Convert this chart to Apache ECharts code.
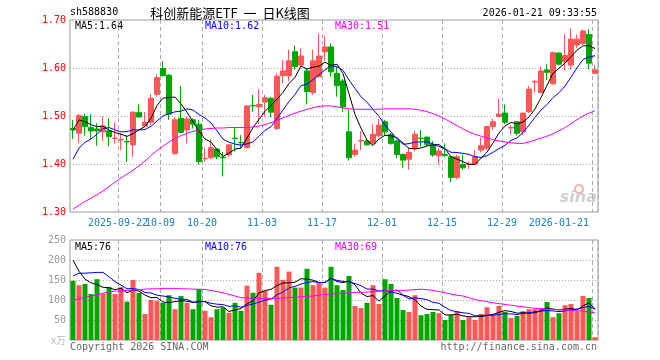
<!DOCTYPE html>
<html><head><meta charset="utf-8">
<script src="https://cdn.jsdelivr.net/npm/echarts@6/dist/echarts.min.js"></script>
<style>html,body{margin:0;padding:0;background:#fff}#c{width:660px;height:360px}</style>
</head><body><div id="c"></div>
<script>
const dates = ['2025-09-10','2025-09-11','2025-09-12','2025-09-15','2025-09-16','2025-09-17','2025-09-18','2025-09-19',
'2025-09-22','2025-09-23','2025-09-24','2025-09-25','2025-09-26','2025-09-29','2025-09-30',
'2025-10-09','2025-10-10','2025-10-13','2025-10-14','2025-10-15','2025-10-16','2025-10-17',
'2025-10-20','2025-10-21','2025-10-22','2025-10-23','2025-10-24','2025-10-27','2025-10-28','2025-10-29','2025-10-30','2025-10-31',
'2025-11-03','2025-11-04','2025-11-05','2025-11-06','2025-11-07','2025-11-10','2025-11-11','2025-11-12','2025-11-13','2025-11-14',
'2025-11-17','2025-11-18','2025-11-19','2025-11-20','2025-11-21','2025-11-24','2025-11-25','2025-11-26','2025-11-27','2025-11-28',
'2025-12-01','2025-12-02','2025-12-03','2025-12-04','2025-12-05','2025-12-08','2025-12-09','2025-12-10','2025-12-11','2025-12-12',
'2025-12-15','2025-12-16','2025-12-17','2025-12-18','2025-12-19','2025-12-22','2025-12-23','2025-12-24','2025-12-25','2025-12-26',
'2025-12-29','2025-12-30','2025-12-31','2026-01-05','2026-01-06','2026-01-07','2026-01-08','2026-01-09',
'2026-01-12','2026-01-13','2026-01-14','2026-01-15','2026-01-16','2026-01-19','2026-01-20','2026-01-21'];

const opens  = [1.474,1.464,1.499,1.476,1.473,1.467,1.469,1.453,1.450,1.447,1.440,1.507,1.479,1.487,1.545,1.599,1.585,1.422,1.495,1.471,1.492,1.483,1.411,1.413,1.431,1.414,1.419,1.454,1.445,1.434,1.522,1.519,1.529,1.537,1.474,1.584,1.584,1.634,1.606,1.594,1.549,1.582,1.634,1.644,1.589,1.573,1.467,1.420,1.448,1.448,1.443,1.459,1.488,1.462,1.448,1.420,1.410,1.433,1.454,1.456,1.441,1.417,1.420,1.415,1.372,1.399,1.399,1.400,1.429,1.433,1.478,1.499,1.506,1.475,1.488,1.467,1.509,1.571,1.549,1.596,1.567,1.631,1.613,1.606,1.648,1.651,1.670,1.589];
const closes = [1.471,1.501,1.478,1.469,1.469,1.479,1.457,1.454,1.451,1.446,1.508,1.498,1.487,1.537,1.580,1.584,1.504,1.492,1.466,1.494,1.483,1.405,1.412,1.434,1.415,1.413,1.440,1.453,1.444,1.521,1.521,1.524,1.538,1.508,1.583,1.594,1.615,1.603,1.625,1.551,1.615,1.625,1.644,1.592,1.563,1.519,1.413,1.429,1.449,1.440,1.462,1.481,1.467,1.443,1.420,1.408,1.424,1.462,1.453,1.441,1.419,1.427,1.418,1.372,1.415,1.392,1.400,1.415,1.438,1.478,1.488,1.504,1.487,1.476,1.464,1.506,1.556,1.572,1.594,1.591,1.632,1.608,1.626,1.660,1.660,1.677,1.610,1.596];
const highs  = [1.492,1.504,1.504,1.504,1.485,1.499,1.495,1.486,1.464,1.460,1.510,1.524,1.508,1.546,1.587,1.615,1.587,1.497,1.563,1.499,1.495,1.492,1.434,1.452,1.433,1.425,1.441,1.474,1.460,1.523,1.544,1.556,1.544,1.540,1.589,1.617,1.638,1.647,1.641,1.599,1.638,1.672,1.667,1.651,1.603,1.577,1.513,1.443,1.469,1.452,1.483,1.494,1.492,1.464,1.450,1.422,1.433,1.469,1.471,1.457,1.448,1.433,1.443,1.417,1.419,1.419,1.405,1.429,1.455,1.478,1.494,1.535,1.524,1.481,1.490,1.507,1.563,1.575,1.603,1.608,1.634,1.633,1.670,1.683,1.670,1.681,1.681,1.606];
const lows   = [1.452,1.443,1.459,1.452,1.438,1.448,1.436,1.443,1.429,1.404,1.415,1.497,1.478,1.481,1.540,1.582,1.492,1.419,1.464,1.443,1.474,1.399,1.405,1.410,1.410,1.374,1.415,1.426,1.434,1.433,1.509,1.483,1.499,1.497,1.471,1.568,1.572,1.596,1.603,1.524,1.544,1.580,1.615,1.582,1.540,1.509,1.407,1.415,1.429,1.438,1.440,1.455,1.459,1.440,1.412,1.392,1.388,1.426,1.436,1.436,1.415,1.399,1.415,1.362,1.368,1.388,1.389,1.398,1.424,1.429,1.471,1.499,1.483,1.462,1.459,1.460,1.506,1.549,1.547,1.575,1.565,1.606,1.596,1.596,1.641,1.648,1.598,1.587];
const volumes = [148,137,140,115,152,115,132,115,132,96,150,118,65,100,98,93,112,77,110,93,77,127,73,57,77,81,68,93,73,136,118,168,123,88,183,150,171,131,131,178,137,142,131,183,137,125,160,85,80,93,137,90,152,140,105,75,70,112,62,65,70,67,50,62,72,50,57,50,65,82,65,85,70,55,60,72,77,77,80,95,57,67,87,90,72,110,105,7];

const ma5Head  = [1.470,1.492,1.488,1.482];
const ma10Head = [1.410,1.433,1.445,1.452,1.462,1.474,1.476,1.471,1.467];
const ma30 = [1.306,1.314,1.322,1.329,1.336,1.344,1.353,1.362,1.371,1.379,1.387,1.396,1.406,1.418,1.428,1.437,1.446,1.453,1.459,1.464,1.468,1.471,1.473,1.474,1.475,1.475,1.476,1.476,1.476,1.476,1.477,1.479,1.482,1.486,1.491,1.496,1.501,1.506,1.510,1.514,1.517,1.520,1.521,1.521,1.519,1.517,1.515,1.514,1.514,1.514,1.514,1.514,1.515,1.515,1.515,1.515,1.515,1.514,1.512,1.509,1.505,1.500,1.494,1.487,1.480,1.473,1.467,1.462,1.458,1.454,1.451,1.448,1.446,1.444,1.443,1.443,1.446,1.450,1.454,1.458,1.463,1.469,1.476,1.484,1.492,1.500,1.506,1.511];
const volMa5Head  = [200,172,152,143];
const volMa10Head = [160,167,167,168,169,169,158,146,137];
const volMa30 = [100,103,107,110,113,117,120,122,123,124,125,126,127,128,128,129,129,129,128,128,127,127,126,124,121,118,114,110,106,105,104,104,104,104,104,105,106,107,108,109,110,112,114,115,116,117,118,119,119,120,121,122,123,123,124,124,125,126,127,126,124,121,118,115,112,110,106,101,98,96,93,91,89,87,85,83,81,79,78,77,77,76,75,74,73,72,70,68];

const tickIdx  = [8,15,22,32,42,52,62,72,87];
const tickText = ['2025-09-22','10-09','10-20','11-03','11-17','12-01','12-15','12-29','2026-01-21'];

function movingAvg(vals, n, head) {
  return vals.map((v, i) => {
    if (i < n - 1) return head[i];
    let s = 0;
    for (let k = i - n + 1; k <= i; k++) s += vals[k];
    return +(s / n).toFixed(4);
  });
}

const UP = '#ff5656', DOWN = '#00a600';
const MONO = 'DejaVu Sans Mono';
const kData = opens.map((o, i) => [o, closes[i], lows[i], highs[i]]);
const volData = volumes.map((v, i) => ({ value: v, itemStyle: { color: closes[i] >= opens[i] ? UP : DOWN } }));

const tickShow = (i) => tickIdx.indexOf(i) >= 0;
const splitLineX = { show: true, interval: tickShow, lineStyle: { color: '#aaa', type: [4, 3], width: 1 } };

const chart = echarts.init(document.getElementById('c'), null, { renderer: 'canvas' });
chart.setOption({
  animation: false,
  backgroundColor: '#fff',
  grid: [
    { left: 70, top: 20, width: 528, height: 192, show: true, borderColor: '#999', borderWidth: 1 },
    { left: 70, top: 240, width: 528, height: 100, show: true, borderColor: '#999', borderWidth: 1 }
  ],
  xAxis: [
    { type: 'category', gridIndex: 0, data: dates, boundaryGap: true,
      axisLine: { show: false }, axisTick: { show: false },
      axisLabel: { interval: 0, formatter: (v, i) => { const k = tickIdx.indexOf(i); return k >= 0 ? tickText[k] : ''; },
        hideOverlap: false,
        color: '#1a80d0', fontFamily: MONO, fontSize: 10, margin: 6, padding: [0, 6, 0, 0], alignMaxLabel: 'right' },
      splitLine: splitLineX },
    { type: 'category', gridIndex: 1, data: dates, boundaryGap: true,
      axisLine: { show: false }, axisTick: { show: false }, axisLabel: { show: false },
      splitLine: splitLineX }
  ],
  yAxis: [
    { type: 'value', gridIndex: 0, min: 1.3, max: 1.7, interval: 0.1,
      axisLine: { show: false }, axisTick: { show: false },
      axisLabel: { color: '#f00', fontFamily: MONO, fontSize: 10, margin: 4, formatter: v => v.toFixed(2) },
      splitLine: { show: true, showMinLine: false, showMaxLine: false, lineStyle: { color: '#aaa', type: [1, 2] } } },
    { type: 'value', gridIndex: 1, min: 0, max: 250, interval: 50,
      axisLine: { show: false }, axisTick: { show: false },
      axisLabel: { color: '#999', fontFamily: MONO, fontSize: 10, margin: 4, formatter: v => v === 0 ? '' : String(v) },
      splitLine: { show: true, showMinLine: false, showMaxLine: false, lineStyle: { color: '#aaa', type: [1, 2] } } }
  ],
  series: [
    { type: 'candlestick', xAxisIndex: 0, yAxisIndex: 0, data: kData, barWidth: 5,
      itemStyle: { color: UP, color0: DOWN, borderColor: UP, borderColor0: DOWN, borderWidth: 1 } },
    { type: 'line', xAxisIndex: 0, yAxisIndex: 0, data: movingAvg(closes, 5, ma5Head), symbol: 'none', silent: true, lineStyle: { color: '#000', width: 1 } },
    { type: 'line', xAxisIndex: 0, yAxisIndex: 0, data: movingAvg(closes, 10, ma10Head), symbol: 'none', silent: true, lineStyle: { color: '#0000ff', width: 1 } },
    { type: 'line', xAxisIndex: 0, yAxisIndex: 0, data: ma30, symbol: 'none', silent: true, lineStyle: { color: '#ff00ff', width: 1 } },
    { type: 'bar', xAxisIndex: 1, yAxisIndex: 1, data: volData, barWidth: 5 },
    { type: 'line', xAxisIndex: 1, yAxisIndex: 1, data: movingAvg(volumes, 5, volMa5Head), symbol: 'none', silent: true, lineStyle: { color: '#000', width: 1 } },
    { type: 'line', xAxisIndex: 1, yAxisIndex: 1, data: movingAvg(volumes, 10, volMa10Head), symbol: 'none', silent: true, lineStyle: { color: '#0000ff', width: 1 } },
    { type: 'line', xAxisIndex: 1, yAxisIndex: 1, data: volMa30, symbol: 'none', silent: true, lineStyle: { color: '#ff00ff', width: 1 } }
  ],
  graphic: [
    { type: 'text', left: 70, top: 7, style: { text: 'sh588830', font: '10px "DejaVu Sans Mono"', fill: '#000' } },
    { type: 'text', x: 230, y: 13, style: { text: '科创新能源ETF  一  日K线图', font: '13px "Noto Sans CJK SC"', fill: '#000', align: 'center', verticalAlign: 'middle' } },
    { type: 'text', x: 597, y: 13, style: { text: '2026-01-21 09:33:55', font: '10px "DejaVu Sans Mono"', fill: '#000', align: 'right', verticalAlign: 'middle' } },
    { type: 'text', x: 75, y: 26, style: { text: 'MA5:1.64', font: '10px "DejaVu Sans Mono"', fill: '#000', verticalAlign: 'middle' } },
    { type: 'text', x: 205, y: 26, style: { text: 'MA10:1.62', font: '10px "DejaVu Sans Mono"', fill: '#0000ff', verticalAlign: 'middle' } },
    { type: 'text', x: 335, y: 26, style: { text: 'MA30:1.51', font: '10px "DejaVu Sans Mono"', fill: '#ff00ff', verticalAlign: 'middle' } },
    { type: 'text', x: 75, y: 247, style: { text: 'MA5:76', font: '10px "DejaVu Sans Mono"', fill: '#000', verticalAlign: 'middle' } },
    { type: 'text', x: 205, y: 247, style: { text: 'MA10:76', font: '10px "DejaVu Sans Mono"', fill: '#0000ff', verticalAlign: 'middle' } },
    { type: 'text', x: 335, y: 247, style: { text: 'MA30:69', font: '10px "DejaVu Sans Mono"', fill: '#ff00ff', verticalAlign: 'middle' } },
    { type: 'text', x: 66, y: 340, style: { text: 'x万', font: '10px "Noto Sans CJK SC"', fill: '#bbb', align: 'right', verticalAlign: 'middle' } },
    { type: 'text', x: 70, y: 347, style: { text: 'Copyright 2026 SINA.COM', font: '10px "DejaVu Sans Mono"', fill: '#666', verticalAlign: 'middle' } },
    { type: 'text', x: 597, y: 347, style: { text: 'http://finance.sina.com.cn', font: '10px "DejaVu Sans Mono"', fill: '#666', align: 'right', verticalAlign: 'middle' } },
    { type: 'circle', shape: { cx: 579, cy: 189, r: 4 }, style: { fill: 'none', stroke: '#f3b0b0', lineWidth: 2 } },
    { type: 'text', x: 597, y: 198, style: { text: 'sina', font: 'italic bold 16px "DejaVu Sans"', fill: '#d0d0d0', align: 'right', verticalAlign: 'middle' } }
  ]
});
</script>
</body></html>
